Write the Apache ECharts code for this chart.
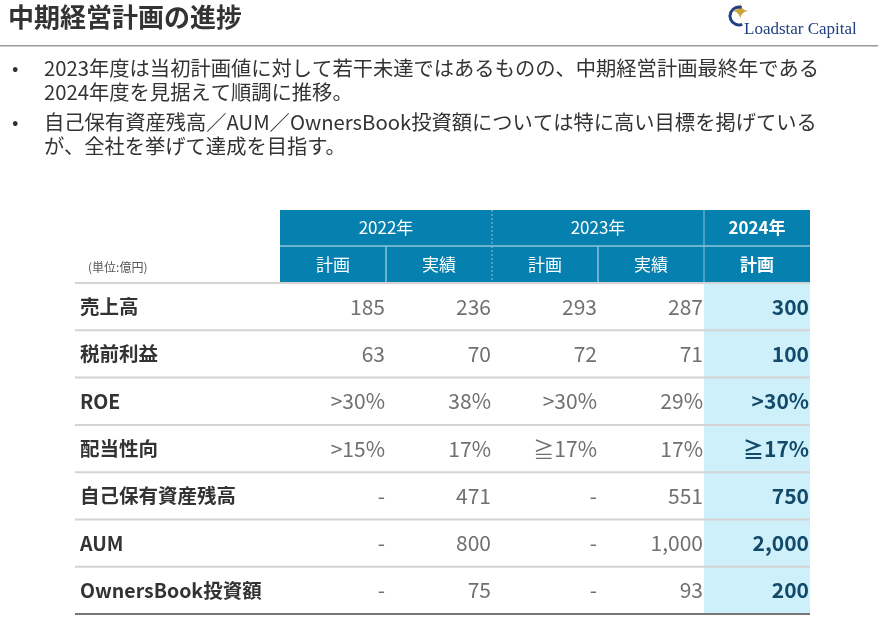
<!DOCTYPE html>
<html><head><meta charset="utf-8">
<script src="https://cdn.jsdelivr.net/npm/echarts@6/dist/echarts.min.js"></script>
<style>html,body{margin:0;padding:0;background:#fff}#c{width:886px;height:629px}</style>
</head><body><div id="c"></div>
<script>
const title = '中期経営計画の進捗';
const bullets = [
  ['2023年度は当初計画値に対して若干未達ではあるものの、中期経営計画最終年である','2024年度を見据えて順調に推移。'],
  ['自己保有資産残高／AUM／OwnersBook投資額については特に高い目標を掲げている','が、全社を挙げて達成を目指す。']
];
const years = ['2022年','2023年','2024年'];
const subHeads = ['計画','実績','計画','実績','計画'];
const unitLabel = '(単位:億円)';
const rowLabels = ['売上高','税前利益','ROE','配当性向','自己保有資産残高','AUM','OwnersBook投資額'];
const plan2022 = ['185','63','>30%','>15%','-','-','-'];
const act2022  = ['236','70','38%','17%','471','800','75'];
const plan2023 = ['293','72','>30%','≧17%','-','-','-'];
const act2023  = ['287','71','29%','17%','551','1,000','93'];
const plan2024 = ['300','100','>30%','≧17%','750','2,000','200'];

const F = '"Noto Sans CJK JP","Noto Sans",sans-serif';
const g = [];
g.push({type:'text',left:8,top:4,style:{text:title,font:'bold 26px '+F,fill:'#333'}});
g.push({type:'rect',shape:{x:0,y:45,width:878,height:1.5},style:{fill:'#9a9a9a'}});
// logo
g.push({type:'text',left:744,top:21,style:{text:'Loadstar Capital',font:'17px "Liberation Serif",serif',fill:'#22407f'}});
g.push({type:'text',left:731,top:2,style:{text:'✦',font:'22px "DejaVu Sans"',fill:'#c9a63a'}});
g.push({type:'arc',shape:{cx:739,cy:16,r:9,startAngle:1.2,endAngle:5},style:{stroke:'#22407f',lineWidth:3,fill:null}});
bullets.forEach((b,i)=>{
  const y0 = 58 + i*54;
  g.push({type:'text',left:12,top:y0,style:{text:'•',font:'19px '+F,fill:'#333'}});
  b.forEach((ln,j)=>g.push({type:'text',left:44,top:y0+j*24,style:{text:ln,font:'20.3px '+F,fill:'#333'}}));
});
const colX = [280,386,492,598,704,810];
const hdrTop=210, hdrMid=246, hdrBot=283, rowH=47.3;
const nR = rowLabels.length;
const tblBot = hdrBot + rowH*nR;
g.push({type:'rect',shape:{x:280,y:hdrTop,width:530,height:hdrBot-hdrTop},style:{fill:'#0680ae'}});
g.push({type:'rect',shape:{x:704,y:hdrBot,width:106,height:tblBot-hdrBot},style:{fill:'#cdf0fb'}});
g.push({type:'line',shape:{x1:280,y1:hdrMid,x2:810,y2:hdrMid},style:{stroke:'#8cc3d9',lineWidth:1.5}});
[386,598].forEach(x=>g.push({type:'line',shape:{x1:x,y1:hdrMid,x2:x,y2:hdrBot},style:{stroke:'#8cc3d9',lineWidth:1.5}}));
[492,704].forEach(x=>g.push({type:'line',shape:{x1:x,y1:hdrTop,x2:x,y2:hdrBot},style:{stroke:'#8cc3d9',lineWidth:1,lineDash:x===492?[2,2]:null}}));
const yc = [[280,492],[492,704],[704,810]];
years.forEach((y,i)=>g.push({type:'text',x:(yc[i][0]+yc[i][1])/2,y:(hdrTop+hdrMid)/2,style:{text:y,align:'center',verticalAlign:'middle',font:(i===2?'bold ':'')+'17px '+F,fill:'#fff'}}));
subHeads.forEach((s,i)=>g.push({type:'text',x:(colX[i]+colX[i+1])/2,y:(hdrMid+hdrBot)/2,style:{text:s,align:'center',verticalAlign:'middle',font:(i===4?'bold ':'')+'17px '+F,fill:'#fff'}}));
g.push({type:'text',x:88,y:267,style:{text:unitLabel,verticalAlign:'middle',font:'12px '+F,fill:'#555'}});
const cols = [plan2022,act2022,plan2023,act2023,plan2024];
for(let r=0;r<nR;r++){
  const top = hdrBot + r*rowH, cy = top+rowH/2;
  g.push({type:'line',shape:{x1:75,y1:top,x2:810,y2:top},style:{stroke:'#d4d4d4',lineWidth:2}});
  g.push({type:'text',x:80,y:cy,style:{text:rowLabels[r],verticalAlign:'middle',font:'bold 19.5px '+F,fill:'#333'}});
  cols.forEach((c,i)=>g.push({type:'text',x:colX[i+1]-1,y:cy,style:{text:c[r],align:'right',verticalAlign:'middle',font:(i===4?'bold 21px ':'21px ')+F,fill:i===4?'#134a69':'#707070'}}));
}
g.push({type:'line',shape:{x1:75,y1:tblBot,x2:810,y2:tblBot},style:{stroke:'#777',lineWidth:2}});

const chart = echarts.init(document.getElementById('c'));
chart.setOption({animation:false,graphic:{elements:g}});
</script></body></html>
